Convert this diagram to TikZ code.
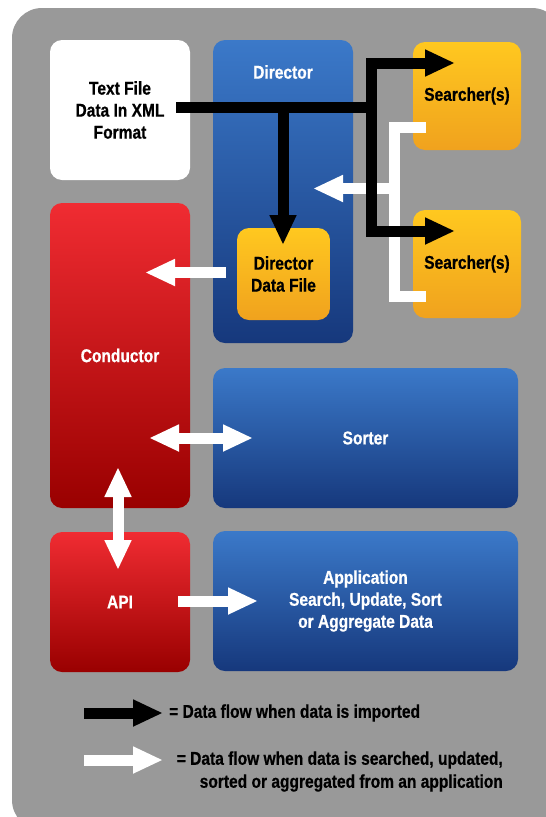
\documentclass[tikz,border=0pt]{standalone}
\usepackage{fontspec}
\setmainfont{Liberation Sans}[FakeStretch=0.84, BoldFeatures={FakeBold=0.6}]
\usetikzlibrary{arrows.meta}
\definecolor{panelgray}{HTML}{999999}
\definecolor{bluetop}{HTML}{3B79C9}
\definecolor{bluebot}{HTML}{16387C}
\definecolor{redtop}{HTML}{F02C32}
\definecolor{redbot}{HTML}{990000}
\definecolor{yeltop}{HTML}{FFC81F}
\definecolor{yelbot}{HTML}{F0A21E}
\tikzset{
  box/.style={rounded corners=12pt, inner sep=0pt, align=center,
    font=\bfseries\fontsize{18.5}{22}\selectfont},
  bluebox/.style={box, top color=bluetop, bottom color=bluebot, text=white},
  redbox/.style={box, top color=redtop, bottom color=redbot, text=white},
  yelbox/.style={box, top color=yeltop, bottom color=yelbot, text=black},
  lbl/.style={inner sep=0pt, align=center, font=\bfseries\fontsize{18.5}{23}\selectfont},
  tip/.style={-{Triangle[width=25pt,length=30pt]}},
  dtip/.style={{Triangle[width=25pt,length=30pt]}-{Triangle[width=25pt,length=30pt]}},
  blkflow/.style={draw=black, line width=11pt, line join=miter},
  whtflow/.style={draw=white, line width=11pt, line join=miter},
}
\begin{document}
\begin{tikzpicture}[x=1pt,y=-1pt]
\useasboundingbox (0,0) rectangle (546,817);
\clip (0,0) rectangle (546,817);
\fill[panelgray, rounded corners=30pt] (12,8) rectangle (562,830);

% boxes
\node[box, fill=white, minimum width=140pt, minimum height=140pt] (xml) at (120,110) {Text File\\Data In XML\\Format};
\node[bluebox, minimum width=140pt, minimum height=303pt] (director) at (283,191.5) {};
\node[lbl, text=white] (dirlabel) at (283,72) {Director};
\node[yelbox, minimum width=108pt, minimum height=108pt] (s1) at (467,96) {Searcher(s)};
\node[yelbox, minimum width=108pt, minimum height=108pt] (s2) at (467,264) {Searcher(s)};
\node[yelbox, minimum width=93pt, minimum height=92pt] (ddf) at (283.5,274) {Director\\Data File};
\node[redbox, minimum width=140pt, minimum height=305pt] (conductor) at (120,355.5) {Conductor};
\node[bluebox, minimum width=305pt, minimum height=140pt] (sorter) at (365.5,438) {Sorter};
\node[redbox, minimum width=140pt, minimum height=140pt] (api) at (120,602) {API};
\node[bluebox, minimum width=305pt, minimum height=140pt] (app) at (365.5,601) {Application\\Search, Update, Sort\\or Aggregate Data};

% coordinates
\coordinate (xmlout) at (176,107);
\coordinate (j1) at (371,107);
\coordinate (j2) at (283,107);
\coordinate (s1in) at (455,63);
\coordinate (s2in) at (455,231);
\coordinate (ddfin) at (283,245);
\coordinate (s1out) at (426,127.5);
\coordinate (s2out) at (426,296);
\coordinate (wj) at (394,188.5);
\coordinate (dirin) at (313,188.5);
\coordinate (ddfout) at (226,272.5);
\coordinate (condin) at (145,272.5);
\coordinate (cs1) at (149,438);
\coordinate (cs2) at (253,438);
\coordinate (ca1) at (118,467);
\coordinate (ca2) at (118,570);
\coordinate (aa1) at (178,601);
\coordinate (aa2) at (258,601);
\coordinate (lb1) at (84,713);
\coordinate (lb2) at (163,713);
\coordinate (lw1) at (84,760);
\coordinate (lw2) at (163,760);

% white flows
\draw[whtflow] (s1out) -- (394,127.5) -- (394,296) -- (s2out);
\draw[whtflow, tip] (wj) -- (dirin);
\draw[whtflow, tip] (ddfout) -- (condin);
\draw[whtflow, dtip] (cs1) -- (cs2);
\draw[whtflow, dtip] (ca1) -- (ca2);
\draw[whtflow, tip] (aa1) -- (aa2);

% black flows
\draw[blkflow] (xmlout) -- (j1);
\draw[blkflow, tip] (j1) |- (s1in);
\draw[blkflow, tip] (j1) |- (s2in);
\draw[blkflow, tip] (j2) -- (ddfin);

% legend
\draw[blkflow, tip] (lb1) -- (lb2);
\draw[whtflow, tip] (lw1) -- (lw2);
\node[lbl, anchor=west] (leg1) at (169,713) {= Data flow when data is imported};
\node[lbl, anchor=east, align=right] (leg2) at (503,771.5) {= Data flow when data is searched, updated,\\sorted or aggregated from an application};
\end{tikzpicture}
\end{document}
